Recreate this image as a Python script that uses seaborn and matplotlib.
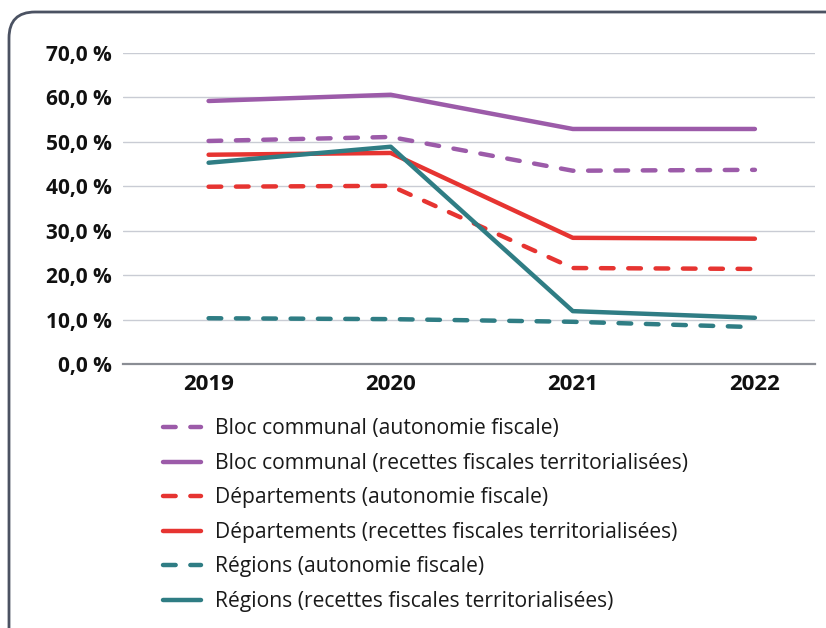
import matplotlib
matplotlib.use("Agg")
import matplotlib.pyplot as plt
import matplotlib.transforms as mtransforms
from matplotlib.patches import FancyBboxPatch
from matplotlib.lines import Line2D
import seaborn as sns
import pandas as pd

years = ["2019", "2020", "2021", "2022"]
series_names = [
    "Bloc communal (autonomie fiscale)",
    "Bloc communal (recettes fiscales territorialisées)",
    "Départements (autonomie fiscale)",
    "Départements (recettes fiscales territorialisées)",
    "Régions (autonomie fiscale)",
    "Régions (recettes fiscales territorialisées)",
]
bloc_af = [50.2, 51.1, 43.5, 43.7]
bloc_rft = [59.2, 60.6, 52.9, 52.9]
dep_af = [39.9, 40.1, 21.6, 21.4]
dep_rft = [47.1, 47.5, 28.4, 28.2]
reg_af = [10.3, 10.1, 9.5, 8.3]
reg_rft = [45.3, 48.9, 11.9, 10.4]
values = [bloc_af, bloc_rft, dep_af, dep_rft, reg_af, reg_rft]
colors = ["#9c5ba9", "#9c5ba9", "#e63431", "#e63431", "#2f7d84", "#2f7d84"]
dashed = [True, False, True, False, True, False]
y_ticks = [0, 10, 20, 30, 40, 50, 60, 70]
y_labels = ["0,0 %", "10,0 %", "20,0 %", "30,0 %", "40,0 %", "50,0 %", "60,0 %", "70,0 %"]

rows = []
for name, vals in zip(series_names, values):
    for i, (yr, v) in enumerate(zip(years, vals)):
        rows.append({"x": i, "year": yr, "value": v, "series": name})
df = pd.DataFrame(rows)

sns.set_theme(style="white")
plt.rcParams["font.family"] = ["Open Sans", "DejaVu Sans"]

fig = plt.figure(figsize=(8.26, 6.28), dpi=100)
ax = fig.add_axes([123 / 826, 1 - 364 / 628, (815 - 123) / 826, (364 - 53) / 628])

LW = 3.2
DASH = (2.85, 3.3)
palette = dict(zip(series_names, colors))
dash_map = {n: (DASH if d else "") for n, d in zip(series_names, dashed)}

sns.lineplot(data=df, x="x", y="value", hue="series", style="series",
             hue_order=series_names, style_order=series_names,
             palette=palette, dashes=dash_map, linewidth=LW, ax=ax,
             legend=False)
for ln in ax.get_lines():
    ln.set_dash_capstyle("round")
    ln.set_solid_capstyle("round")

ax.set_xlim(-0.47, 3.33)
ax.set_ylim(0, 70)
ax.set_xticks(range(len(years)))
ax.set_xticklabels(years, fontsize=16, fontweight="bold", color="#111111")
ax.set_yticks(y_ticks)
ax.set_yticklabels(y_labels, fontsize=15, fontweight="bold", color="#111111")
ax.tick_params(axis="both", length=0)
ax.tick_params(axis="y", pad=8)
ax.tick_params(axis="x", pad=7)
ax.set_xlabel("")
ax.set_ylabel("")
for s in ["top", "right", "left"]:
    ax.spines[s].set_visible(False)
ax.spines["bottom"].set_color("#8a8d94")
ax.spines["bottom"].set_linewidth(1.6)
ax.grid(axis="y", color="#c9ccd4", linewidth=1.0)
ax.grid(axis="x", visible=False)
ax.set_axisbelow(True)

handles = []
for name, c, d in zip(series_names, colors, dashed):
    h = Line2D([], [], color=c, linewidth=LW,
               linestyle=(0, DASH) if d else "-",
               dash_capstyle="round", solid_capstyle="round")
    handles.append(h)
leg = fig.legend(handles, series_names, loc="upper left",
                 bbox_to_anchor=(155 / 826, 1 - 410 / 628),
                 frameon=False, fontsize=15.2, handlelength=1.8,
                 handletextpad=0.65, labelspacing=0.64, borderaxespad=0)
for t in leg.get_texts():
    t.set_color("#1a1a1a")

border = FancyBboxPatch((9, -40), 860, 616 + 40,
                        boxstyle="round,pad=0,rounding_size=26",
                        transform=mtransforms.IdentityTransform(),
                        facecolor="none", edgecolor="#4b5262", linewidth=2.0,
                        clip_on=False)
fig.patches.append(border)

fig.savefig("out.png", dpi=100)
